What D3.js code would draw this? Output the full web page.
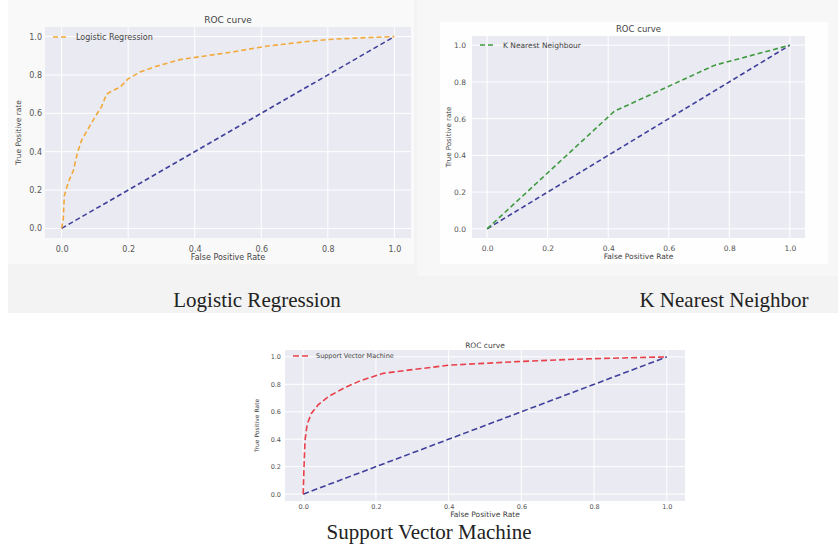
<!DOCTYPE html>
<html>
<head>
<meta charset="utf-8">
<script src="https://cdn.jsdelivr.net/npm/d3@7"></script>
<style>
  html, body { margin: 0; padding: 0; background: #fff; }
  svg { display: block; }
  .tick text { font-family: "DejaVu Sans", sans-serif; fill: #555; }
</style>
</head>
<body>
<div id="container"></div>
<script>
const ticks = [0, 0.2, 0.4, 0.6, 0.8, 1.0];

// chance line
const diagFpr = [0, 1];
const diagTpr = [0, 1];

const logRegFpr = [0, 0.005, 0.008, 0.02, 0.035, 0.047, 0.06, 0.08, 0.10, 0.12, 0.135, 0.155, 0.175, 0.20, 0.235, 0.285, 0.355, 0.415, 0.515, 0.615, 0.715, 0.80, 0.92, 1.0];
const logRegTpr = [0, 0.05, 0.17, 0.24, 0.30, 0.39, 0.46, 0.52, 0.58, 0.635, 0.70, 0.72, 0.735, 0.78, 0.815, 0.845, 0.88, 0.895, 0.92, 0.95, 0.97, 0.985, 0.995, 1.0];

const knnFpr = [0, 0.42, 0.75, 1.0];
const knnTpr = [0, 0.64, 0.89, 1.0];

const svmFpr = [0, 0.002, 0.005, 0.011, 0.023, 0.041, 0.069, 0.11, 0.156, 0.22, 0.294, 0.404, 0.587, 0.77, 1.0];
const svmTpr = [0, 0.175, 0.39, 0.51, 0.59, 0.65, 0.71, 0.77, 0.825, 0.88, 0.905, 0.94, 0.965, 0.985, 1.0];

const width = 838;
const height = 546;

const svg = d3.select('#container').append('svg')
  .attr('width', width)
  .attr('height', height);

// page backgrounds around the screenshots
svg.append('rect').attr('x', 0).attr('y', 0).attr('width', width).attr('height', height).attr('fill', '#fff');
svg.append('rect').attr('x', 8).attr('y', 0).attr('width', 830).attr('height', 313).attr('fill', '#f3f3f3');
svg.append('rect').attr('x', 8).attr('y', 0).attr('width', 406).attr('height', 264).attr('fill', '#f9f9f9');
svg.append('rect').attr('x', 417).attr('y', 0).attr('width', 421).attr('height', 276).attr('fill', '#f7f7f7');
svg.append('rect').attr('x', 440).attr('y', 22).attr('width', 388).attr('height', 242).attr('fill', '#fefefe');

const panels = [
  {
    fpr: logRegFpr, tpr: logRegTpr, name: 'Logistic Regression', color: '#f2a93b',
    ylabel: 'True Positive rate', caption: 'Logistic Regression', capX: 257, capY: 307,
    x0: 45, x1: 411, y0: 27, y1: 238, fs: 8, xlabFs: 8, titleY: 23, xlabY: 260, ylabX: 21,
    tickPad: 3, xTickPad: 8, dash: '5,3', legY: 37
  },
  {
    fpr: knnFpr, tpr: knnTpr, name: 'K Nearest Neighbour', color: '#3f9a3f',
    ylabel: 'True Positive rate', caption: 'K Nearest Neighbor', capX: 724, capY: 307,
    x0: 472, x1: 805, y0: 36, y1: 238, fs: 7.5, xlabFs: 7.5, titleY: 32, xlabY: 259, ylabX: 451,
    tickPad: 6, xTickPad: 7.5, dash: '5,3', legY: 45
  },
  {
    fpr: svmFpr, tpr: svmTpr, name: 'Support Vector Machine', color: '#e8404a',
    ylabel: 'True Positive Rate', caption: 'Support Vector Machine', capX: 429, capY: 539,
    x0: 285, x1: 685, y0: 350, y1: 501, fs: 6.5, xlabFs: 7.5, titleY: 348, xlabY: 517, ylabX: 259,
    tickPad: 4, xTickPad: 3, dash: '6,3', legY: 356
  }
];

panels.forEach(drawPanel);

function drawPanel(p) {
  const x = d3.scaleLinear().domain([-0.05, 1.05]).range([p.x0, p.x1]);
  const y = d3.scaleLinear().domain([-0.05, 1.05]).range([p.y1, p.y0]);
  const g = svg.append('g');

  g.append('rect')
    .attr('x', p.x0).attr('y', p.y0)
    .attr('width', p.x1 - p.x0).attr('height', p.y1 - p.y0)
    .attr('fill', '#eaeaf2');

  // white grid
  g.append('g').selectAll('line').data(ticks).join('line')
    .attr('x1', d => x(d)).attr('x2', d => x(d))
    .attr('y1', p.y0).attr('y2', p.y1)
    .attr('stroke', '#fff').attr('stroke-width', 1);
  g.append('g').selectAll('line').data(ticks).join('line')
    .attr('y1', d => y(d)).attr('y2', d => y(d))
    .attr('x1', p.x0).attr('x2', p.x1)
    .attr('stroke', '#fff').attr('stroke-width', 1);

  const xAxis = g.append('g')
    .attr('transform', `translate(0,${p.y1})`)
    .call(d3.axisBottom(x).tickValues(ticks).tickFormat(d3.format('.1f')).tickSize(0).tickPadding(p.xTickPad));
  const yAxis = g.append('g')
    .attr('transform', `translate(${p.x0},0)`)
    .call(d3.axisLeft(y).tickValues(ticks).tickFormat(d3.format('.1f')).tickSize(0).tickPadding(p.tickPad));
  [xAxis, yAxis].forEach(a => {
    a.select('.domain').remove();
    a.selectAll('text').style('font-size', p.fs + 'px');
  });

  const line = d3.line().x(d => x(d[0])).y(d => y(d[1]));

  g.append('path')
    .datum(d3.zip(diagFpr, diagTpr))
    .attr('d', line)
    .attr('fill', 'none')
    .attr('stroke', '#40409c')
    .attr('stroke-width', 1.6)
    .attr('stroke-dasharray', p.dash);

  g.append('path')
    .datum(d3.zip(p.fpr, p.tpr))
    .attr('d', line)
    .attr('fill', 'none')
    .attr('stroke', p.color)
    .attr('stroke-width', 1.6)
    .attr('stroke-dasharray', p.dash);

  // legend
  g.append('line')
    .attr('x1', p.x0 + 8).attr('x2', p.x0 + 24)
    .attr('y1', p.legY).attr('y2', p.legY)
    .attr('stroke', p.color).attr('stroke-width', 1.6)
    .attr('stroke-dasharray', p.dash);
  g.append('text')
    .attr('x', p.x0 + 31).attr('y', p.legY + p.fs * 0.35)
    .attr('font-family', 'DejaVu Sans, sans-serif')
    .attr('font-size', p.fs)
    .attr('fill', '#444')
    .text(p.name);

  const cx = (p.x0 + p.x1) / 2;
  g.append('text')
    .attr('x', cx).attr('y', p.titleY)
    .attr('text-anchor', 'middle')
    .attr('font-family', 'DejaVu Sans, sans-serif')
    .attr('font-size', p.fs + 1)
    .attr('fill', '#444')
    .text('ROC curve');

  g.append('text')
    .attr('x', cx).attr('y', p.xlabY)
    .attr('text-anchor', 'middle')
    .attr('font-family', 'DejaVu Sans, sans-serif')
    .attr('font-size', p.xlabFs)
    .attr('fill', '#444')
    .text('False Positive Rate');

  g.append('text')
    .attr('transform', `translate(${p.ylabX},${(p.y0 + p.y1) / 2}) rotate(-90)`)
    .attr('text-anchor', 'middle')
    .attr('font-family', 'DejaVu Sans, sans-serif')
    .attr('font-size', p.fs - 0.5)
    .attr('fill', '#444')
    .text(p.ylabel);

  svg.append('text')
    .attr('x', p.capX).attr('y', p.capY)
    .attr('text-anchor', 'middle')
    .attr('font-family', 'Liberation Serif, Times New Roman, serif')
    .attr('font-size', 21)
    .attr('fill', '#222')
    .text(p.caption);
}
</script>
</body>
</html>
